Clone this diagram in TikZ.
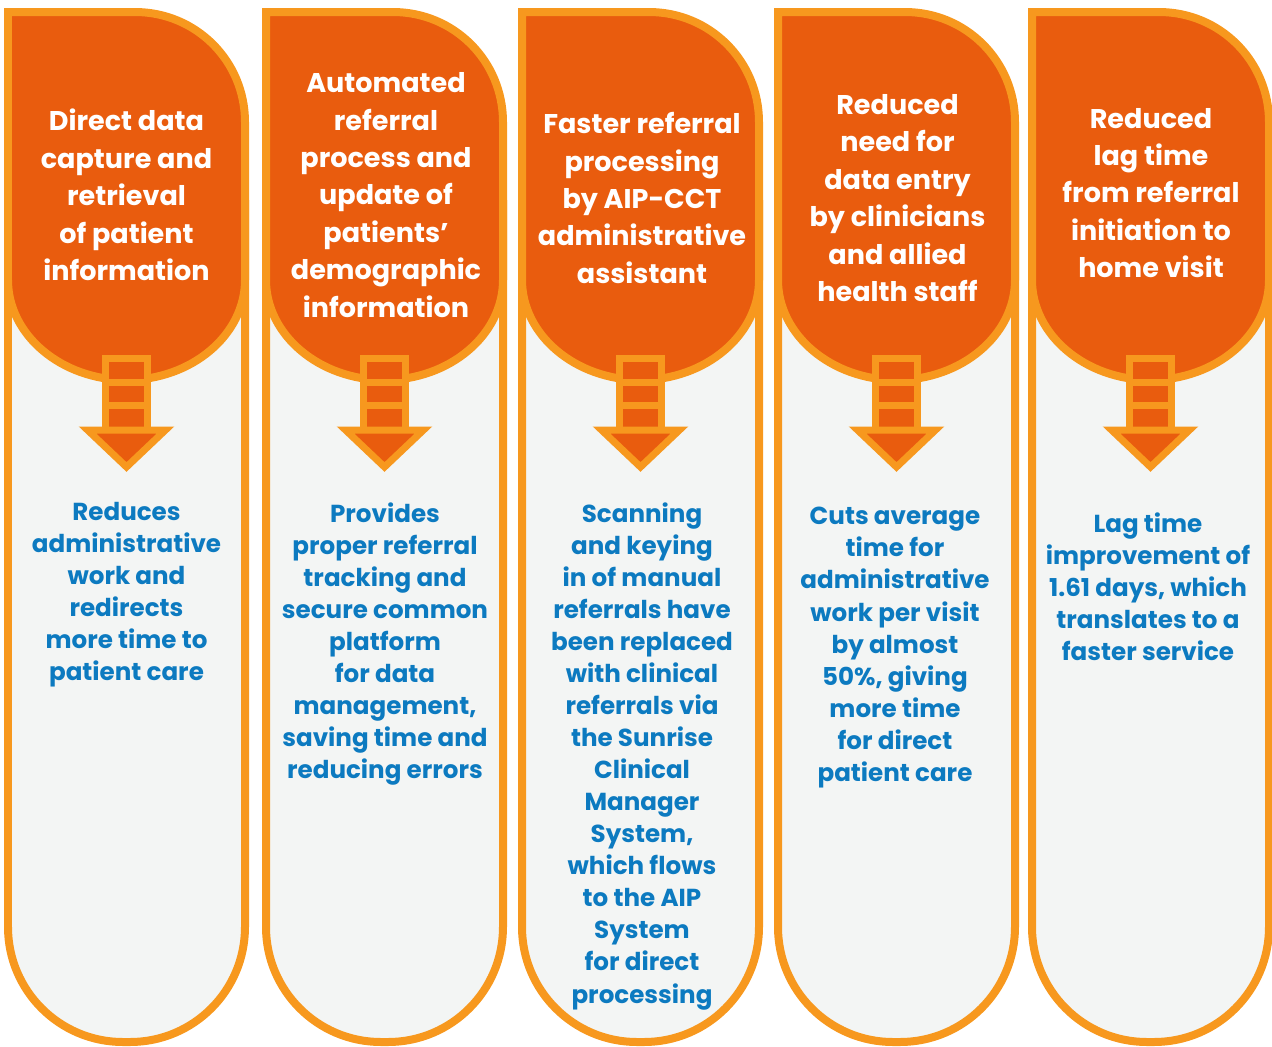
\documentclass[tikz,border=0pt]{standalone}
\usepackage{fontspec}
\setmainfont{Poppins}
\usetikzlibrary{positioning}
\definecolor{darkorange}{HTML}{E95C0E}
\definecolor{lightorange}{HTML}{F7981E}
\definecolor{bodygrey}{HTML}{F3F5F4}
\definecolor{textblue}{HTML}{0C7AC0}
\begin{document}
\begin{tikzpicture}[x=0.02cm, y=-0.02cm,
    colbody/.style={draw=lightorange, fill=bodygrey, line width=0.16cm},
    colhead/.style={draw=lightorange, fill=darkorange, line width=0.16cm},
    arrowpart/.style={draw=lightorange, fill=darkorange, line width=0.14cm, line join=miter},
    headtext/.style={text=white, font=\bfseries\fontsize{15.4}{21.3}\selectfont, align=center},
    bodytext/.style={text=textblue, font=\bfseries\fontsize{14}{18.25}\selectfont, align=center, anchor=north, inner sep=0pt}]
    \useasboundingbox (0,0) rectangle (1272,1046);

    % five columns with header and arrow
    \foreach \L in {8,266,522,778,1032} {
        \pgfmathsetmacro\R{\L+237}
        \pgfmathsetmacro\C{\L+118.5}
        \draw[colbody, rounded corners=2.3cm] (\L,200) -- (\L,1042) -- (\R,1042) -- (\R,200);
        \draw[colhead] (\L,12) -- (\R-110,12) .. controls (\R-49,12) and (\R,61) .. (\R,122)
            -- (\R,280) .. controls (\R,335) and (\C+65,380) .. (\C,380)
            .. controls (\C-65,380) and (\L,335) .. (\L,280) -- cycle;
        \draw[arrowpart] (\C-21,358) rectangle (\C+21,430);
        \draw[arrowpart, fill=none] (\C-21,382) -- (\C+21,382) (\C-21,405) -- (\C+21,405);
        \draw[arrowpart] (\C-39,430) -- (\C+39,430) -- (\C,467) -- cycle;
    }

    \node[headtext] (capture)    at (126.5,195) {Direct data\\capture and\\retrieval\\of patient\\information};
    \node[headtext] (automated)  at (386,195) {Automated\\referral\\process and\\update of\\patients’\\demographic\\information};
    \node[headtext] (faster)     at (642,198) {Faster referral\\processing\\by AIP-CCT\\administrative\\assistant};
    \node[headtext] (reduced)    at (897.5,198) {Reduced\\need for\\data entry\\by clinicians\\and allied\\health staff};
    \node[headtext] (lagtime)    at (1151,193) {Reduced\\lag time\\from referral\\initiation to\\home visit};

    \node[bodytext] (reduces)    at (126.5,502) {Reduces\\administrative\\work and\\redirects\\more time to\\patient care};
    \node[bodytext] (provides)   at (385,502) {Provides\\proper referral\\tracking and\\secure common\\platform\\for data\\management,\\saving time and\\reducing errors};
    \node[bodytext] (scanning)   at (642,502) {Scanning\\and keying\\in of manual\\referrals have\\been replaced\\with clinical\\referrals via\\the Sunrise\\Clinical\\Manager\\System,\\which flows\\to the AIP\\System\\for direct\\processing};
    \node[bodytext] (cuts)       at (895,507) {Cuts average\\time for\\administrative\\work per visit\\by almost\\50\%, giving\\more time\\for direct\\patient care};
    \node[bodytext] (improve)    at (1148,512) {Lag time\\improvement of\\1.61 days, which\\translates to a\\faster service};

\end{tikzpicture}
\end{document}
